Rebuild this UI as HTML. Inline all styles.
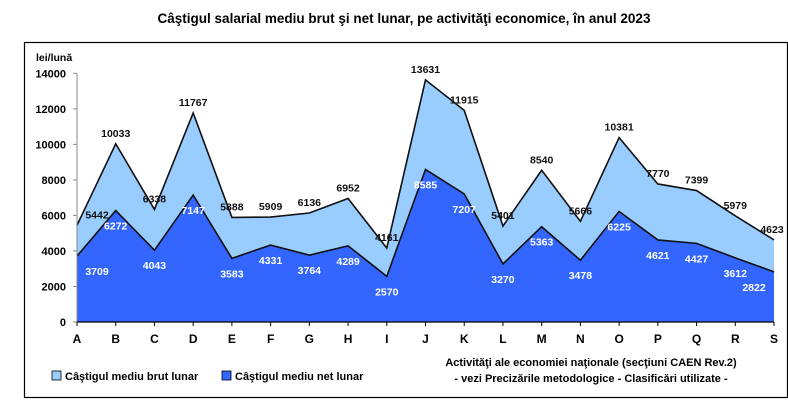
<!DOCTYPE html>
<html><head><meta charset="utf-8"><style>
body{margin:0;background:#fff;}
svg text{font-family:"Liberation Sans",Arial,sans-serif;}
</style></head><body>
<svg width="788" height="405" viewBox="0 0 788 405" xmlns="http://www.w3.org/2000/svg">
<text x="404" y="23" text-anchor="middle" font-size="13.5" font-weight="bold">Câştigul salarial mediu brut şi net lunar, pe activităţi economice, în anul 2023</text>
<rect x="24.5" y="42.5" width="763" height="355" fill="none" stroke="#000" stroke-width="1.2"/>
<g id="plot"></g>
<text x="36" y="61" font-size="10.5" font-weight="bold">lei/lună</text>
<text x="591" y="366" text-anchor="middle" font-size="11" font-weight="bold">Activităţi ale economiei naţionale (secţiuni CAEN Rev.2)</text>
<text x="591" y="382" text-anchor="middle" font-size="11" font-weight="bold">- vezi Precizările metodologice - Clasificări utilizate -</text>
<g>
<rect x="52" y="371" width="9" height="9" fill="#99ccff" stroke="#000" stroke-width="0.8"/>
<text x="65" y="380" font-size="11" font-weight="bold">Câştigul mediu brut lunar</text>
<rect x="222" y="371" width="9" height="9" fill="#3366ff" stroke="#000" stroke-width="0.8"/>
<text x="235" y="380" font-size="11" font-weight="bold">Câştigul mediu net lunar</text>
</g>
</svg>
<script>
const categories=["A","B","C","D","E","F","G","H","I","J","K","L","M","N","O","P","Q","R","S"];
const brut=[5442,10033,6338,11767,5888,5909,6136,6952,4161,13631,11915,5401,8540,5666,10381,7770,7399,5979,4623];
const net=[3709,6272,4043,7147,3583,4331,3764,4289,2570,8585,7207,3270,5363,3478,6225,4621,4427,3612,2822];
const yTicks=[0,2000,4000,6000,8000,10000,12000,14000];
const NS="http://www.w3.org/2000/svg";
const g=document.getElementById('plot');
const x0=77,x1=774,y0=322,y1=73.3,ymax=14000;
const xs=i=>x0+i*(x1-x0)/(categories.length-1);
const ys=v=>y0-v*(y0-y1)/ymax;
function mk(t,a,txt){const e=document.createElementNS(NS,t);for(const k in a)e.setAttribute(k,a[k]);if(txt!==undefined)e.textContent=txt;g.appendChild(e);return e;}
function areaPath(vals){let d='M'+xs(0)+','+y0;vals.forEach((v,i)=>d+=' L'+xs(i)+','+ys(v));return d+' L'+xs(vals.length-1)+','+y0+' Z';}
function linePath(vals){return vals.map((v,i)=>(i?'L':'M')+xs(i)+','+ys(v)).join(' ');}
let e;
e=mk('path',{d:areaPath(brut),fill:'#99ccff'});


e=mk('path',{d:areaPath(net),fill:'#3366ff'});


e=mk('path',{d:linePath(brut),fill:'none',stroke:'#111','stroke-width':1.6});


e=mk('path',{d:linePath(net),fill:'none',stroke:'#111','stroke-width':1.6});


e=mk('line',{x1:x0,y1:y1,x2:x0,y2:y0,stroke:'#888','stroke-width':1});


e=mk('line',{x1:x0,y1:y0,x2:x1,y2:y0,stroke:'#000','stroke-width':1.2});


yTicks.forEach(t=>{
  e=mk('line',{x1:x0-4,y1:ys(t),x2:x0,y2:ys(t),stroke:'#888'});
  
  
  e=mk('text',{x:x0-11,y:ys(t)+4,'text-anchor':'end','font-size':11,'font-weight':'bold'},t);
  
  
});
categories.forEach((c,i)=>{
  e=mk('line',{x1:xs(i),y1:y0,x2:xs(i),y2:y0+4,stroke:'#000'});
  
  
  e=mk('text',{x:xs(i),y:y0+21,'text-anchor':'middle','font-size':12,'font-weight':'bold'},c);
  
  
  const dx=(i===0?20:(i===categories.length-1?0:0));
  e=mk('text',{x:xs(i)+dx+(i===categories.length-1?-2:0),y:ys(brut[i])-7,'text-anchor':'middle','font-size':10.5,'font-weight':'bold',fill:'#111'},brut[i]);
  
  
  e=mk('text',{x:xs(i)+dx-(i===categories.length-1?20:0),y:ys(net[i])+19,'text-anchor':'middle','font-size':10.5,'font-weight':'bold',fill:'#fff'},net[i]);
  
  
});
</script>
</body></html>
